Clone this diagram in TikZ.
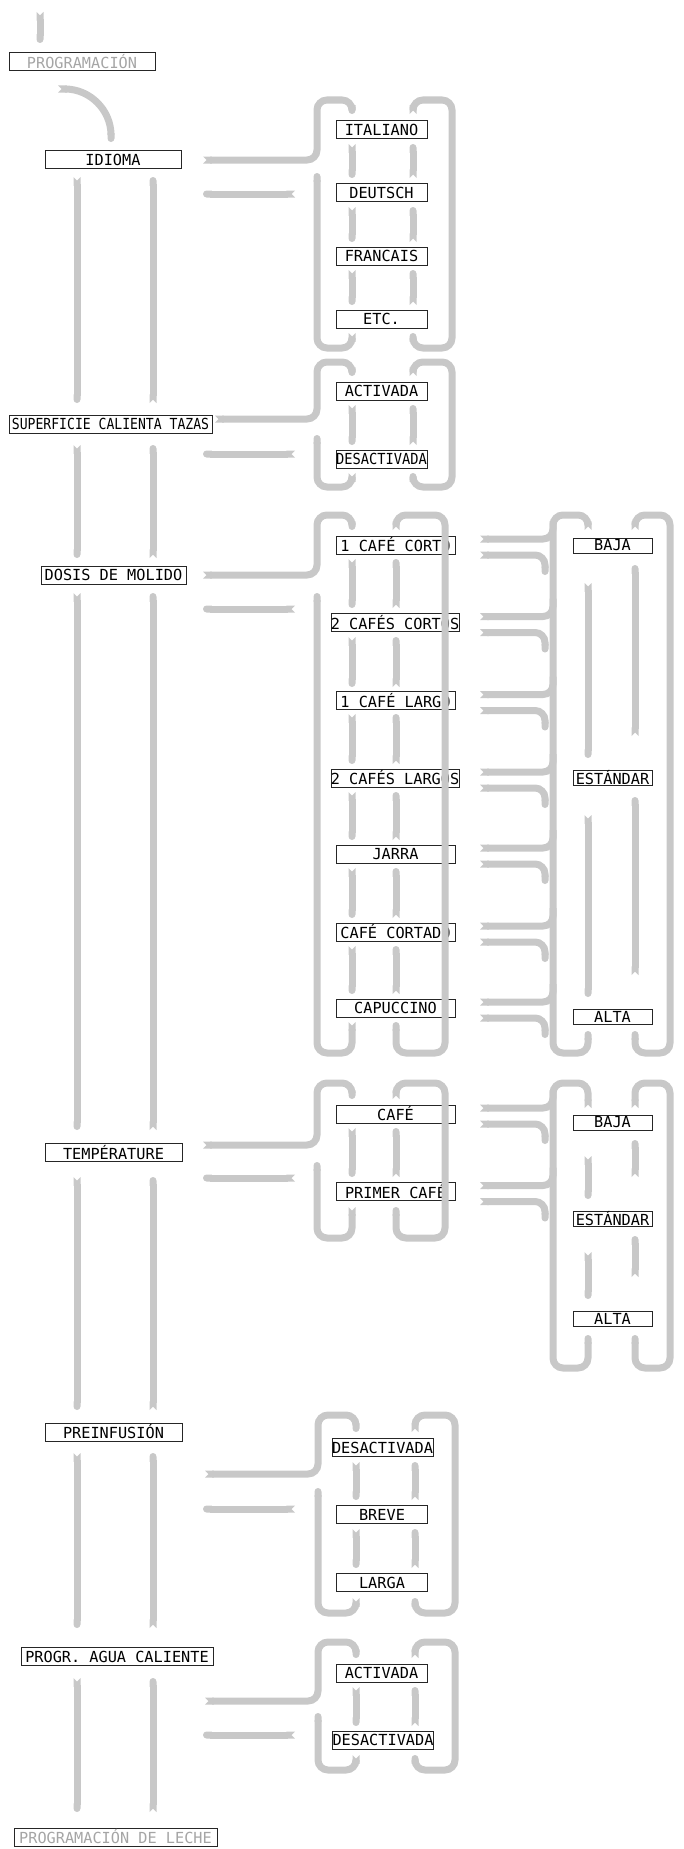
\documentclass[tikz,border=0pt]{standalone}
\usepackage{fontspec}
\newfontfamily\menufont{DejaVu Sans Mono}
\usetikzlibrary{arrows.meta}
\definecolor{bandgray}{RGB}{200,200,200}
\definecolor{titlegray}{RGB}{165,165,165}
\tikzset{
  band/.style={draw=bandgray, line width=0.21cm, rounded corners=0.3cm, {Triangle Cap[reversed]}-{Round Cap}},
  joinband/.style={draw=bandgray, line width=0.21cm, rounded corners=0.3cm, {Triangle Cap[reversed]}-},
  menubox/.style={draw=black!85, line width=0.5pt, inner sep=0pt, minimum height=0.54cm, font=\menufont\fontsize{13}{13}\selectfont},
  valuebox/.style={menubox, minimum height=0.45cm, minimum width=2.37cm},
  titlebox/.style={menubox, text=titlegray}
}
\begin{document}
\begin{tikzpicture}[x=0.03cm, y=-0.03cm]
  \useasboundingbox (0,0) rectangle (684,1849);
  % main menu
  \node[titlebox, minimum width=4.38cm] (prog) at (82,61.5) {PROGRAMACIÓN};
  \node[menubox, minimum width=4.08cm] (idioma) at (113,159.5) {IDIOMA};
  \node[menubox, minimum width=6.09cm] (taza) at (110.5,424) {\scalebox{0.86}[1]{SUPERFICIE CALIENTA TAZAS}};
  \node[menubox, minimum width=4.35cm] (dosis) at (113.5,575) {DOSIS DE MOLIDO};
  \node[menubox, minimum width=4.11cm] (temp) at (113.5,1152.5) {TEMPÉRATURE};
  \node[menubox, minimum width=4.11cm] (preinf) at (113.5,1432) {PREINFUSIÓN};
  \node[menubox, minimum width=5.76cm] (agua) at (117,1656.5) {PROGR. AGUA CALIENTE};
  \node[titlebox, minimum width=6.09cm] (leche) at (115.5,1837) {PROGRAMACIÓN DE LECHE};

  \draw[band] (40,12) -- (40,43);
  \draw[band] (58,89) .. controls (90,89) and (111,110) .. (111,142);
  \foreach \a/\z in {177/403,445/558,593/1130,1177/1410,1453/1628,1678/1812}{
    \draw[band] (77,\a) -- (77,\z);
    \draw[band] (153,\z) -- (153,\a);
  }

  % idioma
  \node[menubox, minimum width=2.73cm] (ital) at (381.5,129.5) {ITALIANO};
  \node[menubox, minimum width=2.73cm] (deut) at (381.5,192.5) {DEUTSCH};
  \node[menubox, minimum width=2.73cm] (fran) at (381.5,256) {FRANCAIS};
  \node[menubox, minimum width=2.73cm] (etc) at (381.5,319) {ETC.};
  \draw[band] (203,160) -- (317,160) -- (317,100) -- (352,100) -- (352,114);
  \draw[band] (352,333) -- (352,348) -- (317,348) -- (317,173);
  \draw[band] (295,194) -- (203,194);
  \draw[band] (413,114) -- (413,100) -- (452,100) -- (452,348) -- (413,348) -- (413,333);
  \foreach \b/\t in {139/183,202/247,265/310}{
    \draw[band] (352,\b+5) -- (352,\t-5);
    \draw[band] (413,\t-5) -- (413,\b+5);
  }

  % superficie calienta tazas
  \node[menubox, minimum width=2.73cm] (tazon) at (381.5,391) {ACTIVADA};
  \node[menubox, minimum width=2.73cm] (tazoff) at (381.5,459) {\scalebox{0.9}[1]{DESACTIVADA}};
  \draw[band] (215,419) -- (317,419) -- (317,362) -- (352,362) -- (352,376);
  \draw[band] (352,473) -- (352,487) -- (317,487) -- (317,435);
  \draw[band] (295,454) -- (203,454);
  \draw[band] (413,376) -- (413,362) -- (452,362) -- (452,487) -- (413,487) -- (413,473);
  \draw[band] (352,405) -- (352,445);
  \draw[band] (413,445) -- (413,405);

  % dosis de molido
  \node[menubox, minimum width=3.57cm] (corto) at (395.5,545) {1 CAFÉ CORTO};
  \node[menubox, minimum width=3.84cm] (cortos) at (395,622.5) {2 CAFÉS CORTOS};
  \node[menubox, minimum width=3.57cm] (largo) at (395.5,700.5) {1 CAFÉ LARGO};
  \node[menubox, minimum width=3.84cm] (largos) at (395,778) {2 CAFÉS LARGOS};
  \node[menubox, minimum width=3.57cm] (jarra) at (395.5,854) {JARRA};
  \node[menubox, minimum width=3.57cm] (cortado) at (395.5,932) {CAFÉ CORTADO};
  \node[menubox, minimum width=3.57cm] (capu) at (395.5,1008) {CAPUCCINO};
  \draw[band] (203,575) -- (317,575) -- (317,515) -- (352,515) -- (352,530);
  \draw[band] (352,1022) -- (352,1053) -- (317,1053) -- (317,593);
  \draw[band] (295,609) -- (203,609);
  \draw[band] (396,530) -- (396,515) -- (445,515) -- (445,1053) -- (396,1053) -- (396,1022);
  \foreach \b/\t in {554/613,632/692,709/769,787/845,863/923,941/999}{
    \draw[band] (352,\b+5) -- (352,\t-5);
    \draw[band] (396,\t-5) -- (396,\b+5);
  }
  \foreach \c in {545,622.5,700.5,778,854,932,1008}{
    \draw[joinband] (480,\c-6) -- (553,\c-6) -- (553,\c-24);
    \draw[band] (480,\c+10) -- (545,\c+10) -- (545,\c+30);
  }
  \node[valuebox] (dbaja) at (612.5,545.5) {BAJA};
  \node[valuebox] (dstd) at (612.5,777.5) {ESTÁNDAR};
  \node[valuebox] (dalta) at (612.5,1016.5) {ALTA};
  \draw[band] (588,530) -- (588,515) -- (553,515) -- (553,1053) -- (588,1053) -- (588,1031);
  \draw[band] (635,530) -- (635,515) -- (670,515) -- (670,1053) -- (635,1053) -- (635,1031);
  \foreach \b/\t in {553/770,785/1009}{
    \draw[band] (588,\b+30) -- (588,\t-12);
    \draw[band] (635,\t-34) -- (635,\b+12);
  }

  % temperature
  \node[menubox, minimum width=3.57cm] (tcafe) at (395.5,1114) {CAFÉ};
  \node[menubox, minimum width=3.57cm] (tprimer) at (395.5,1191.5) {PRIMER CAFÉ};
  \draw[band] (203,1145) -- (317,1145) -- (317,1083) -- (352,1083) -- (352,1099);
  \draw[band] (352,1207) -- (352,1238) -- (317,1238) -- (317,1162);
  \draw[band] (295,1178) -- (203,1178);
  \draw[band] (396,1099) -- (396,1083) -- (445,1083) -- (445,1238) -- (396,1238) -- (396,1207);
  \draw[band] (352,1128) -- (352,1177);
  \draw[band] (396,1177) -- (396,1128);
  \foreach \c in {1114,1191.5}{
    \draw[joinband] (480,\c-6) -- (553,\c-6) -- (553,\c-24);
    \draw[band] (480,\c+10) -- (545,\c+10) -- (545,\c+30);
  }
  \node[valuebox] (tbaja) at (612.5,1122.5) {BAJA};
  \node[valuebox] (tstd) at (612.5,1218.5) {ESTÁNDAR};
  \node[valuebox] (talta) at (612.5,1319) {ALTA};
  \draw[band] (588,1108) -- (588,1083) -- (553,1083) -- (553,1368) -- (588,1368) -- (588,1335);
  \draw[band] (635,1108) -- (635,1083) -- (670,1083) -- (670,1368) -- (635,1368) -- (635,1335);
  \foreach \b/\t in {1130/1211,1226/1311}{
    \draw[band] (588,\b+26) -- (588,\t-12);
    \draw[band] (635,\t-34) -- (635,\b+10);
  }

  % preinfusion
  \node[menubox, minimum width=2.91cm] (poff) at (382.5,1447.5) {DESACTIVADA};
  \node[menubox, minimum width=2.73cm] (pbreve) at (382,1514.5) {BREVE};
  \node[menubox, minimum width=2.73cm] (plarga) at (382,1582.5) {LARGA};
  \draw[band] (205,1474) -- (318,1474) -- (318,1415) -- (356,1415) -- (356,1432);
  \draw[band] (356,1598) -- (356,1613) -- (318,1613) -- (318,1488);
  \draw[band] (295,1509) -- (203,1509);
  \draw[band] (415,1432) -- (415,1415) -- (455,1415) -- (455,1613) -- (415,1613) -- (415,1598);
  \foreach \b/\t in {1457/1505,1524/1573}{
    \draw[band] (356,\b+5) -- (356,\t-5);
    \draw[band] (415,\t-5) -- (415,\b+5);
  }

  % agua caliente
  \node[menubox, minimum width=2.73cm] (aon) at (381.5,1673) {ACTIVADA};
  \node[menubox, minimum width=2.94cm] (aoff) at (383,1740) {DESACTIVADA};
  \draw[band] (205,1701) -- (318,1701) -- (318,1642) -- (356,1642) -- (356,1658);
  \draw[band] (356,1755) -- (356,1770) -- (318,1770) -- (318,1713);
  \draw[band] (295,1735) -- (203,1735);
  \draw[band] (415,1658) -- (415,1642) -- (455,1642) -- (455,1770) -- (415,1770) -- (415,1755);
  \draw[band] (356,1687) -- (356,1726);
  \draw[band] (415,1726) -- (415,1687);
\end{tikzpicture}
\end{document}
